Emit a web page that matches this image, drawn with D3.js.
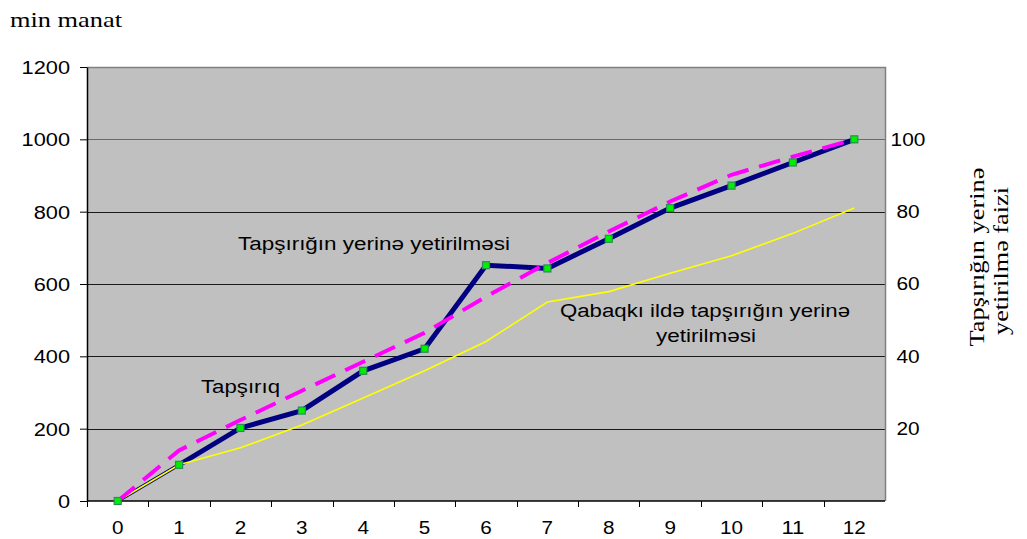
<!DOCTYPE html>
<html lang="en">
<head>
    <meta charset="UTF-8">
    <title>Tapşırığın yerinə yetirilməsi</title>
    <script src="https://d3js.org/d3.v7.min.js"></script>
    <style>
        body { margin: 0; background: #fff; }
        svg text { fill: #000; }
    </style>
</head>
<body>
    <svg id="chart" width="1027" height="539"></svg>

    <script>
        // months 0..12
        var months = [0, 1, 2, 3, 4, 5, 6, 7, 8, 9, 10, 11, 12];
        // plan (dashed magenta), min manat
        var planValues = [0, 140, 224, 305, 385, 465, 565, 658, 745, 828, 902, 952, 1000];
        // actual fulfilment (navy with markers)
        var actualValues = [0, 100, 202, 250, 360, 421, 652, 643, 725, 810, 872, 936, 1000];
        // fulfilment in the previous year (yellow)
        var prevYearValues = [0, 100, 147, 210, 285, 360, 441, 550, 579, 630, 678, 740, 810];

        var leftTicks = [0, 200, 400, 600, 800, 1000, 1200];
        var rightTicks = [20, 40, 60, 80, 100];

        var svg = d3.select("#chart");

        // plot area edges (note: "top" is taken by window.top)
        var plotLeft = 87, plotRight = 885, plotTop = 67, plotBottom = 501;
        var sansFont = "'Liberation Sans', Arial, sans-serif";
        var serifFont = "'Liberation Serif', 'Times New Roman', serif";

        var x = d3.scaleBand()
            .domain(months)
            .range([plotLeft, plotRight])
            .padding(0);

        var y = d3.scaleLinear()
            .domain([0, 1200])
            .range([plotBottom, plotTop]);

        var yRight = d3.scaleLinear()
            .domain([0, 120])
            .range([plotBottom, plotTop]);

        function cx(d) { return x(d) + x.bandwidth() / 2; }

        // plot background
        svg.append("rect")
            .attr("x", plotLeft)
            .attr("y", plotTop)
            .attr("width", plotRight - plotLeft)
            .attr("height", plotBottom - plotTop)
            .attr("fill", "#c0c0c0");

        // gridlines
        svg.selectAll(".grid")
            .data(leftTicks.filter(d => d > 0 && d < 1200))
            .enter()
            .append("line")
            .attr("class", "grid")
            .attr("x1", plotLeft)
            .attr("x2", plotRight)
            .attr("y1", d => Math.round(y(d)) + 0.5)
            .attr("y2", d => Math.round(y(d)) + 0.5)
            .attr("stroke", d => d === 1000 ? "#6a6a6a" : "#1a1a1a")
            .attr("stroke-width", 1);

        // top and right border (grey)
        svg.append("path")
            .attr("d", `M${plotLeft},${Math.round(y(1200)) + 0.5}H${plotRight + 0.5}V${plotBottom}`)
            .attr("fill", "none")
            .attr("stroke", "#808080")
            .attr("stroke-width", 1.5);

        // left axis
        var leftAxis = svg.append("g")
            .attr("transform", `translate(${plotLeft},0)`)
            .call(d3.axisLeft(y)
                .tickValues(leftTicks)
                .tickFormat(d3.format("d"))
                .tickSize(7)
                .tickPadding(10)
                .tickSizeOuter(0));
        leftAxis.select(".domain").attr("stroke", "#000").attr("stroke-width", 1.5);
        leftAxis.selectAll(".tick line").attr("stroke", "#000");
        leftAxis.selectAll(".tick text")
            .attr("font-family", sansFont)
            .attr("font-size", 18)
            .attr("dy", "0.36em")
            .attr("textLength", d => String(d).length * 12.1)
            .attr("lengthAdjust", "spacingAndGlyphs");

        // bottom axis: ticks on band boundaries
        var bottomAxis = svg.append("g")
            .attr("transform", `translate(0,${plotBottom})`);
        bottomAxis.append("line")
            .attr("x1", plotLeft)
            .attr("x2", plotRight)
            .attr("y1", 0)
            .attr("y2", 0)
            .attr("stroke", "#000")
            .attr("stroke-width", 1.5);
        bottomAxis.selectAll(".xtick")
            .data(months)
            .enter()
            .append("line")
            .attr("class", "xtick")
            .attr("x1", d => Math.round(x(d)) + 0.5)
            .attr("x2", d => Math.round(x(d)) + 0.5)
            .attr("y1", 0)
            .attr("y2", 6)
            .attr("stroke", "#000");
        bottomAxis.selectAll(".xlabel")
            .data(months)
            .enter()
            .append("text")
            .attr("class", "xlabel")
            .attr("x", d => cx(d))
            .attr("y", 33)
            .attr("text-anchor", "middle")
            .attr("font-family", sansFont)
            .attr("font-size", 18)
            .attr("textLength", d => String(d).length * 11.5)
            .attr("lengthAdjust", "spacingAndGlyphs")
            .text(d => d);

        // right axis labels
        svg.selectAll(".rlabel")
            .data(rightTicks)
            .enter()
            .append("text")
            .attr("class", "rlabel")
            .attr("x", 908)
            .attr("y", d => yRight(d))
            .attr("dy", "0.36em")
            .attr("text-anchor", "middle")
            .attr("font-family", sansFont)
            .attr("font-size", 18)
            .attr("textLength", d => String(d).length * 11.6)
            .attr("lengthAdjust", "spacingAndGlyphs")
            .text(d => d);

        var line = d3.line()
            .x((d, i) => cx(months[i]))
            .y(d => y(d));

        // actual series: thin first segment, thick afterwards
        svg.append("path")
            .datum(actualValues.slice(0, 2))
            .attr("d", line)
            .attr("fill", "none")
            .attr("stroke", "#000080")
            .attr("stroke-width", 3.5);

        var lineFrom1 = d3.line()
            .x((d, i) => cx(months[i + 1]))
            .y(d => y(d));
        svg.append("path")
            .datum(actualValues.slice(1))
            .attr("d", lineFrom1)
            .attr("fill", "none")
            .attr("stroke", "#000080")
            .attr("stroke-width", 5)
            .attr("stroke-linejoin", "miter");

        // previous year
        svg.append("path")
            .datum(prevYearValues)
            .attr("d", line)
            .attr("fill", "none")
            .attr("stroke", "#ffff00")
            .attr("stroke-width", 1.6);

        // plan, dashed
        svg.append("path")
            .datum(planValues)
            .attr("d", line)
            .attr("fill", "none")
            .attr("stroke", "#ff00ff")
            .attr("stroke-width", 4)
            .attr("stroke-dasharray", "22,11");

        // markers
        svg.selectAll(".marker")
            .data(actualValues)
            .enter()
            .append("rect")
            .attr("class", "marker")
            .attr("x", (d, i) => cx(months[i]) - 3.5)
            .attr("y", d => y(d) - 3.5)
            .attr("width", 7)
            .attr("height", 7)
            .attr("fill", "#00ee00")
            .attr("stroke", "#2e8b57")
            .attr("stroke-width", 1.2);

        // annotations
        function label(text, tx, ty, len, family, size) {
            return svg.append("text")
                .attr("x", tx)
                .attr("y", ty)
                .attr("font-family", family)
                .attr("font-size", size)
                .attr("textLength", len)
                .attr("lengthAdjust", "spacingAndGlyphs")
                .text(text);
        }

        label("min manat", 10, 27, 112, serifFont, 21);
        label("Tapşırığın yerinə yetirilməsi", 238, 250, 272, sansFont, 18);
        label("Tapşırıq", 201, 393, 79, sansFont, 18);
        label("Qabaqkı ildə tapşırığın yerinə", 560, 317, 290, sansFont, 18);
        label("yetirilməsi", 656, 342, 100, sansFont, 18);

        // right axis title, rotated
        svg.append("text")
            .attr("transform", "translate(984,257) rotate(-90)")
            .attr("text-anchor", "middle")
            .attr("font-family", serifFont)
            .attr("font-size", 21)
            .attr("textLength", 179)
            .attr("lengthAdjust", "spacingAndGlyphs")
            .text("Tapşırığın yerinə");
        svg.append("text")
            .attr("transform", "translate(1008,261) rotate(-90)")
            .attr("text-anchor", "middle")
            .attr("font-family", serifFont)
            .attr("font-size", 21)
            .attr("textLength", 148)
            .attr("lengthAdjust", "spacingAndGlyphs")
            .text("yetirilmə faizi");
    </script>
</body>
</html>
